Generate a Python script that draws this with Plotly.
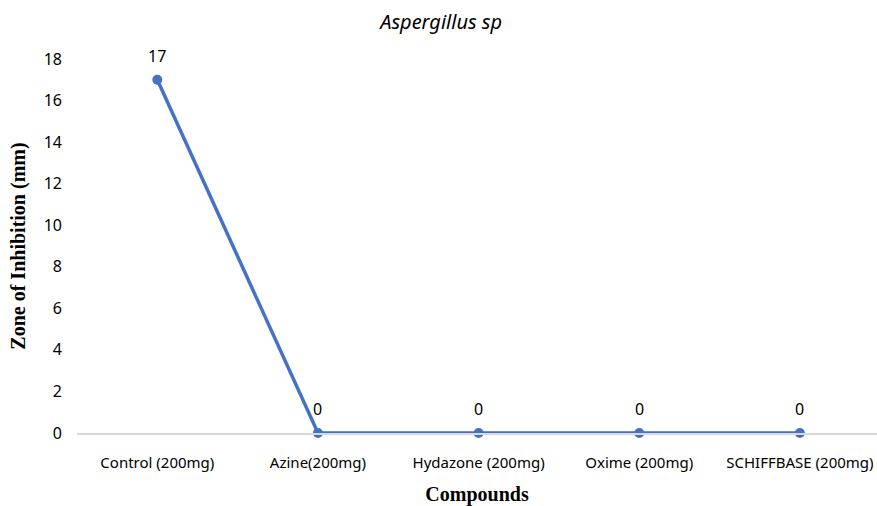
import plotly.graph_objects as go

categories = ["Control (200mg)", "Azine(200mg)", "Hydazone (200mg)", "Oxime (200mg)", "SCHIFFBASE (200mg)"]
values = [17, 0, 0, 0, 0]
y_ticks = [0, 2, 4, 6, 8, 10, 12, 14, 16, 18]

FONT = "Noto Sans, Open Sans, sans-serif"
SERIF = "Liberation Serif, Times New Roman, serif"

fig = go.Figure()
fig.add_trace(go.Scatter(
    x=list(range(len(categories))), y=values,
    mode="lines+markers",
    line=dict(color="#4472C4", width=3.5),
    marker=dict(color="#4472C4", size=10),
    cliponaxis=False,
))
for i, v in enumerate(values):
    fig.add_annotation(x=i, y=v, text=str(v), showarrow=False, yanchor="bottom",
                       yshift=11, font=dict(family=FONT, size=16, color="#000000"))

fig.update_layout(
    width=877, height=506,
    margin=dict(l=77, r=0, t=59, b=73),
    paper_bgcolor="white", plot_bgcolor="white",
    showlegend=False,
    title=dict(text="<i>Aspergillus sp</i>", x=0.503, xanchor="center", y=0.957, yanchor="middle",
               font=dict(family=FONT, size=20, color="#000000")),
    xaxis=dict(
        range=[-0.5, 4.48], tickmode="array",
        tickvals=list(range(len(categories))), ticktext=categories,
        showgrid=False, zeroline=False, showline=True, linecolor="#d9d9d9", linewidth=1.5,
        ticks="", ticklabelstandoff=15,
        tickfont=dict(family=FONT, size=15, color="#000000"),
        title=dict(text="<b>Compounds</b>", standoff=20,
                   font=dict(family=SERIF, size=20, color="#000000")),
    ),
    yaxis=dict(
        range=[0, 18], tickmode="array", tickvals=y_ticks,
        showgrid=False, zeroline=False, showline=False, ticks="",
        ticklabelstandoff=14,
        tickfont=dict(family=FONT, size=16, color="#000000"),
        title=dict(text="<b>Zone of Inhibition (mm)</b>", standoff=12,
                   font=dict(family=SERIF, size=20, color="#000000")),
    ),
)

fig.write_html("out.html")
